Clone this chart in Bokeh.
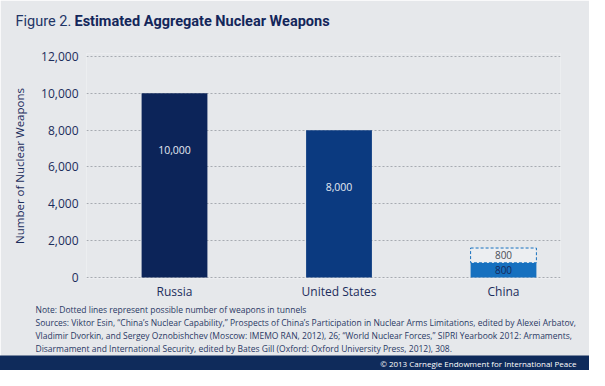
from bokeh.plotting import figure
from bokeh.models import Range1d, FixedTicker, Label, ColumnDataSource, NumeralTickFormatter
from bokeh.core.properties import value
from bokeh.embed import file_html
from bokeh.resources import INLINE

# ---- data ----
categories = ["Russia", "United States", "China"]
estimated = [10000, 8000, 800]
tunnels = [0, 0, 800]
y_ticks = [0, 2000, 4000, 6000, 8000, 10000, 12000]
bar_colors = ["#0c2459", "#0b3a80", "#1670bf"]

title_regular = "Figure 2."
title_bold = "Estimated Aggregate Nuclear Weapons"
y_title = "Number of Nuclear Weapons"
note_text = "Note: Dotted lines represent possible number of weapons in tunnels"
source_lines = [
    "Sources: Viktor Esin, \u201cChina\u2019s Nuclear Capability,\u201d Prospects of China\u2019s Participation in Nuclear Arms Limitations, edited by Alexei Arbatov,",
    "Vladimir Dvorkin, and Sergey Oznobishchev (Moscow: IMEMO RAN, 2012), 26; \u201cWorld Nuclear Forces,\u201d SIPRI Yearbook 2012: Armaments,",
    "Disarmament and International Security, edited by Bates Gill (Oxford: Oxford University Press, 2012), 308.",
]
copyright_text = "\u00a9 2013 Carnegie Endowment for International Peace"

# ---- style ----
BG = "#e6e8eb"
NAVY = "#1c2d5c"
FOOT = "#0f2b5b"
FONT = "Open Sans"
TFONT = "Roboto"

W, H = 589, 370
L, R, T, B = 86, 29, 53, 92

p = figure(width=W, height=H, output_backend="svg", toolbar_location=None,
           x_range=Range1d(-0.535, 2.3465), y_range=Range1d(-55, 12163),
           min_border_left=L, min_border_right=R, min_border_top=T, min_border_bottom=B,
           background_fill_color=BG, border_fill_color=BG, outline_line_color=None)

idx = list(range(len(categories)))

# grid
p.xgrid.grid_line_color = None
p.ygrid.grid_line_color = "#a7abb1"
p.ygrid.grid_line_dash = "2 2"
p.ygrid.grid_line_width = 1

# axes
p.yaxis.ticker = FixedTicker(ticks=y_ticks)
p.yaxis.formatter = NumeralTickFormatter(format="0,0")
p.yaxis.axis_label = y_title
p.yaxis.axis_label_text_font = FONT
p.yaxis.axis_label_text_font_style = "normal"
p.yaxis.axis_label_text_font_size = "11.5px"
p.yaxis.axis_label_text_color = NAVY
p.yaxis.axis_label_standoff = 11
p.yaxis.major_label_standoff = 8
p.yaxis.bounds = (y_ticks[0], y_ticks[-1])

p.xaxis.ticker = FixedTicker(ticks=idx)
p.xaxis.major_label_overrides = {i: c for i, c in zip(idx, categories)}
p.xaxis.major_label_standoff = 4

for ax in (p.xaxis, p.yaxis):
    ax.axis_line_color = None
    ax.major_tick_line_color = None
    ax.minor_tick_line_color = None
    ax.major_tick_out = 0
    ax.major_label_text_font = FONT
    ax.major_label_text_font_size = "12px"
    ax.major_label_text_color = NAVY

# bars
bars = ColumnDataSource(dict(x=idx, top=estimated, color=bar_colors))
p.vbar(x="x", top="top", width=0.4, fill_color="color", line_color=None, source=bars)

# tunnel (dotted) boxes
ti = [i for i in idx if tunnels[i] > 0]
tun = ColumnDataSource(dict(x=ti, bottom=[estimated[i] for i in ti],
                            top=[estimated[i] + tunnels[i] for i in ti],
                            mid=[estimated[i] + tunnels[i] / 2 for i in ti],
                            label=[f"{tunnels[i]:,}" for i in ti]))
p.vbar(x="x", bottom="bottom", top="top", width=0.4, fill_color="#eceef1",
       line_color="#1670bf", line_dash="3 2", line_width=1, source=tun)
p.text(x="x", y="mid", text="label", source=tun, text_align="center", text_baseline="middle",
       text_font=value(FONT), text_font_size="10px", text_color="#4a4d55")

# value labels inside big bars
bi = [i for i in idx if tunnels[i] == 0]
big = ColumnDataSource(dict(x=bi, y=[estimated[i] for i in bi],
                            label=[f"{estimated[i]:,}" for i in bi]))
p.text(x="x", y="y", text="label", source=big, y_offset=57, text_align="center",
       text_baseline="middle", text_font=value(FONT), text_font_size="10.5px",
       text_color="#e4eaf3")

# small bar label (China)
si = [i for i in idx if tunnels[i] > 0]
small = ColumnDataSource(dict(x=si, y=[estimated[i] / 2 for i in si],
                              label=[f"{estimated[i]:,}" for i in si]))
p.text(x="x", y="y", text="label", source=small, text_align="center",
       text_baseline="middle", text_font=value(FONT), text_font_size="10px",
       text_color="#15285a")


# ---- surrounding texts: canvas-positioned labels living in side panels ----
def lab(text, cx, cy, size, place, color=NAVY, font=FONT, style="normal", align="left",
        baseline="middle", **kw):
    p.add_layout(Label(x=cx, y=cy, x_units="canvas", y_units="canvas", text=text,
                       text_font=font, text_font_size=size, text_color=color,
                       text_font_style=style, text_align=align, text_baseline=baseline, **kw),
                 place)


lab(title_regular, 15, 21, "14.5px", "above", font=TFONT, color="#1f3566")
lab(title_bold, 74, 21, "14.5px", "above", font=TFONT, style="bold", color="#13265a")
lab(note_text, 35, 309, "8.5px", "below", color="#2a3965")
for k, line in enumerate(source_lines):
    lab(line, 35, 322 + 13 * k, "8.5px", "below", color="#2a3965")
lab(copyright_text, 606, 355, "8px", "below", color="#ffffff", align="right",
    baseline="top", background_fill_color=FOOT, padding=[640, 30, 2, 8])

open("out.html", "w").write(file_html(p, INLINE))
